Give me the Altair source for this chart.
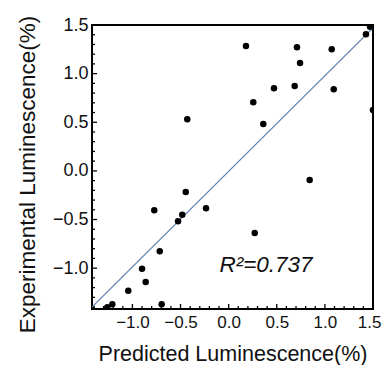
import altair as alt
import pandas as pd

# data
pred = [0.180, 0.710, 1.071, 0.742, 0.471, 0.686, 1.092, 0.256, 0.360, 1.427, 1.469, 1.50,
        -0.430, -0.773, -0.446, -0.526, -0.482, -0.235, -0.716, -0.900, -0.862, -1.043,
        -1.209, -1.261, -0.696, 0.842, 0.271]
expt = [1.284, 1.271, 1.250, 1.109, 0.849, 0.873, 0.839, 0.705, 0.482, 1.404, 1.483, 0.626,
        0.530, -0.405, -0.217, -0.518, -0.450, -0.385, -0.827, -1.006, -1.142, -1.232,
        -1.372, -1.403, -1.372, -0.094, -0.639]
fit_x = [-1.42, 1.50]
fit_y = [-1.40, 1.47]
major_ticks = [-1.0, -0.5, 0.0, 0.5, 1.0, 1.5]
minor_ticks = [-1.4, -1.3, -1.2, -1.1, -0.9, -0.8, -0.7, -0.6, -0.4, -0.3, -0.2, -0.1,
               0.1, 0.2, 0.3, 0.4, 0.6, 0.7, 0.8, 0.9, 1.1, 1.2, 1.3, 1.4]
label_text = ["R²=0.737"]
label_x = [0.388]
label_y = [-1.036]

W, H = 281, 284
FONT = "Liberation Sans"

xscale = alt.Scale(domain=[-1.42, 1.5], nice=False, zero=False)
yscale = alt.Scale(domain=[-1.42, 1.5], nice=False, zero=False)
xaxis = alt.Axis(title="Predicted Luminescence(%)", values=major_ticks, format=".1f",
                 grid=False, ticks=False, domain=False, labelOverlap=False,
                 labelFlush=1, labelFlushOffset=8,
                 labelFontSize=17, titleFontSize=21.5, labelFont=FONT, titleFont=FONT,
                 labelColor="#111", titleColor="#111", titleFontWeight="normal",
                 labelPadding=5, titlePadding=13)
yaxis = alt.Axis(title="Experimental Luminescence(%)", values=major_ticks, format=".1f",
                 grid=False, ticks=False, domain=False, labelOverlap=False, labelFlush=False,
                 labelFontSize=18, titleFontSize=22.5, labelFont=FONT, titleFont=FONT,
                 labelColor="#111", titleColor="#111", titleFontWeight="normal",
                 labelPadding=4, titlePadding=13, titleY=149)

X = alt.X("x:Q", scale=xscale, axis=xaxis)
Y = alt.Y("y:Q", scale=yscale, axis=yaxis)

pts = pd.DataFrame({"x": pred, "y": expt})
fit = pd.DataFrame({"x": fit_x, "y": fit_y})
lab = pd.DataFrame({"x": label_x, "y": label_y, "t": label_text})
xmaj = pd.DataFrame({"x": major_ticks})
xmin = pd.DataFrame({"x": minor_ticks})
ymaj = pd.DataFrame({"y": major_ticks})
ymin = pd.DataFrame({"y": minor_ticks})

line = alt.Chart(fit).mark_line(color="#5E81B5", strokeWidth=1.2, clip=True).encode(x=X, y=Y)
dots = alt.Chart(pts).mark_circle(color="black", opacity=1, size=42, clip=True).encode(x=X, y=Y)
text = alt.Chart(lab).mark_text(font=FONT, fontSize=22.5, fontStyle="italic", color="#111",
                                align="center", baseline="alphabetic").encode(x=X, y=Y, text="t:N")

xt1 = alt.Chart(xmaj).mark_rule(color="black", strokeWidth=1.3).encode(
    x=X, y=alt.value(H), y2=alt.value(H - 5))
xt2 = alt.Chart(xmin).mark_rule(color="black", strokeWidth=1.3).encode(
    x=X, y=alt.value(H), y2=alt.value(H - 3))
yt1 = alt.Chart(ymaj).mark_rule(color="black", strokeWidth=1.3).encode(
    y=Y, x=alt.value(0), x2=alt.value(5))
yt2 = alt.Chart(ymin).mark_rule(color="black", strokeWidth=1.3).encode(
    y=Y, x=alt.value(0), x2=alt.value(3))

chart = alt.layer(xt1, xt2, yt1, yt2, line, dots, text).properties(
    width=W, height=H,
    autosize=alt.AutoSizeParams(type="none"),
    padding={"left": 84, "top": 17, "right": 9, "bottom": 56}
).configure_view(stroke="black", strokeWidth=2)

chart.save("out.html", embed_options={"renderer": "svg", "actions": False})
